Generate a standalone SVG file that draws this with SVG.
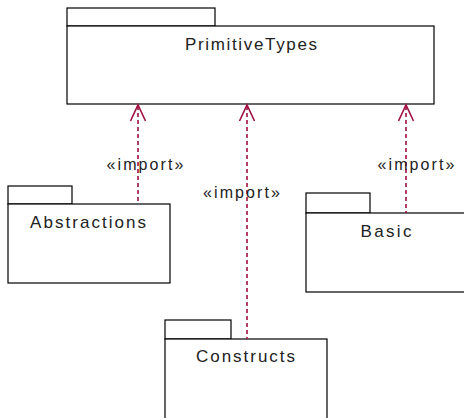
<svg xmlns="http://www.w3.org/2000/svg" width="464" height="418" viewBox="0 0 464 418">
<style>
.pk{fill:#fff;stroke:#000;stroke-width:1.2}
.lbl{font-family:"Liberation Sans",Arial,sans-serif;font-size:17px;fill:#222;text-anchor:middle}
.st{font-family:"Liberation Sans",Arial,sans-serif;font-size:16px;fill:#222;text-anchor:middle}
.dep{stroke:#a01040;stroke-width:1.6;fill:none;stroke-dasharray:4 3}
.head{stroke:#a01040;stroke-width:1.6;fill:none}
</style>
<rect width="464" height="418" fill="#fff"/>
<g id="PrimitiveTypes">
<rect class="pk" x="67" y="8" width="148" height="18"/>
<rect class="pk" x="67" y="26" width="367" height="78"/>
<text class="lbl" x="251" y="50" textLength="132" lengthAdjust="spacing">PrimitiveTypes</text>
</g>
<g id="Abstractions">
<rect class="pk" x="8" y="186" width="64" height="18"/>
<rect class="pk" x="8" y="204" width="162" height="79"/>
<text class="lbl" x="88" y="228" textLength="116" lengthAdjust="spacing">Abstractions</text>
</g>
<g id="Basic">
<rect class="pk" x="306" y="193" width="64" height="20"/>
<rect class="pk" x="306" y="213" width="170" height="79"/>
<text class="lbl" x="386" y="237" textLength="51" lengthAdjust="spacing">Basic</text>
</g>
<g id="Constructs">
<rect class="pk" x="165" y="320" width="66" height="19"/>
<rect class="pk" x="165" y="339" width="162" height="90"/>
<text class="lbl" x="245.5" y="362" textLength="99" lengthAdjust="spacing">Constructs</text>
</g>
<g id="connectors">
<line class="dep" x1="138" y1="106" x2="138" y2="204"/>
<polyline class="head" points="130.5,121 138,105 145.5,121"/>
<text class="st" x="145" y="170" textLength="77" lengthAdjust="spacing">«import»</text>
<line class="dep" x1="247" y1="106" x2="247" y2="339"/>
<polyline class="head" points="239.5,121 247,105 254.5,121"/>
<text class="st" x="241.5" y="198" textLength="77" lengthAdjust="spacing">«import»</text>
<line class="dep" x1="406" y1="106" x2="406" y2="213"/>
<polyline class="head" points="398.5,121 406,105 413.5,121"/>
<text class="st" x="416" y="170" textLength="77" lengthAdjust="spacing">«import»</text>
</g>
</svg>
